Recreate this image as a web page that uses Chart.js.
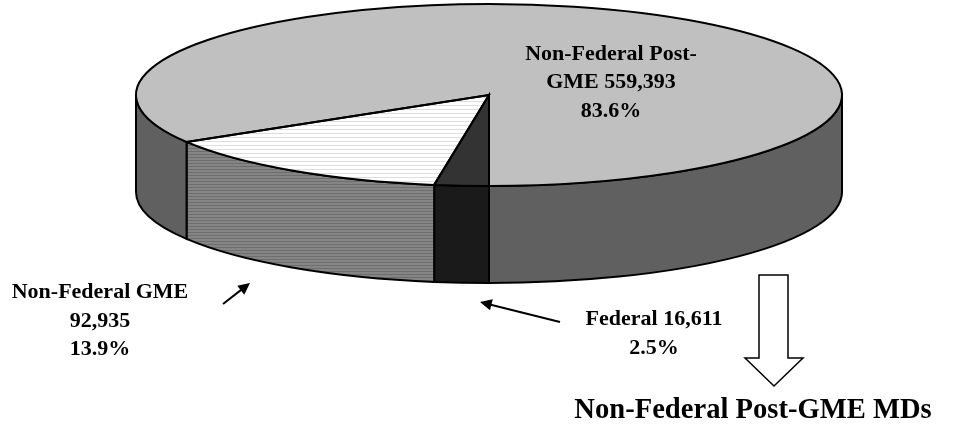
<!DOCTYPE html>
<html>
<head>
<meta charset="utf-8">
<title>Physicians by category</title>
<script src="https://cdn.jsdelivr.net/npm/chart.js@4"></script>
<style>
  html, body { margin: 0; padding: 0; background: #fff; }
  canvas { display: block; }
</style>
</head>
<body>
<canvas id="pieChart" width="972" height="427"></canvas>
<script>
// Data
const categories = ['Federal', 'Non-Federal GME', 'Non-Federal Post-GME'];
const physicians = [16611, 92935, 559393];

// Text around the pie
const labelLines = [
    ['Federal 16,611', '2.5%'],
    ['Non-Federal GME', '92,935', '13.9%'],
    ['Non-Federal Post-', 'GME 559,393', '83.6%']
];
const titleText = 'Non-Federal Post-GME MDs';

// Look of the fake 3D disc
const PIE_X = 489, PIE_Y = 95, PIE_RX = 353, PIE_RY = 91, PIE_DEPTH = 97;
const labelAnchors = [[654, 325], [100, 298], [611, 59.5]];

function stripes(colorA, colorB, period, scaleY) {
    const tile = document.createElement('canvas');
    tile.width = 1;
    tile.height = period;
    const c = tile.getContext('2d');
    c.fillStyle = colorA;
    c.fillRect(0, 0, 1, period);
    c.fillStyle = colorB;
    c.fillRect(0, 1, 1, 1);
    const pattern = c.createPattern(tile, 'repeat');
    if (scaleY) pattern.setTransform(new DOMMatrix().scale(1, scaleY));
    return pattern;
}

const topColors = ['#333333', stripes('#ffffff', '#dedede', 4, 213.5 / PIE_RY), '#c0c0c0'];
const wallColors = ['#1a1a1a', stripes('#858585', '#6e6e6e', 3), '#606060'];

function drawArrow(ctx, x0, y0, x1, y1) {
    const a = Math.atan2(y1 - y0, x1 - x0);
    ctx.beginPath();
    ctx.moveTo(x0, y0);
    ctx.lineTo(x1 - 8 * Math.cos(a), y1 - 8 * Math.sin(a));
    ctx.lineWidth = 2;
    ctx.strokeStyle = '#000';
    ctx.stroke();
    ctx.beginPath();
    ctx.moveTo(x1, y1);
    ctx.lineTo(x1 - 13 * Math.cos(a - 0.45), y1 - 13 * Math.sin(a - 0.45));
    ctx.lineTo(x1 - 13 * Math.cos(a + 0.45), y1 - 13 * Math.sin(a + 0.45));
    ctx.closePath();
    ctx.fillStyle = '#000';
    ctx.fill();
}

const disc3d = {
    id: 'disc3d',
    beforeDatasetsDraw(chart) {
        const ctx = chart.ctx;
        const arcs = chart.getDatasetMeta(0).data;

        // side walls, only the front half of the disc shows
        ctx.lineWidth = 2;
        ctx.strokeStyle = '#000';
        arcs.forEach((arc, i) => {
            [0, 2 * Math.PI].forEach(k => {
                const from = Math.max(arc.startAngle, k);
                const to = Math.min(arc.endAngle, k + Math.PI);
                if (from >= to) return;
                ctx.beginPath();
                ctx.ellipse(PIE_X, PIE_Y, PIE_RX, PIE_RY, 0, from, to);
                ctx.ellipse(PIE_X, PIE_Y + PIE_DEPTH, PIE_RX, PIE_RY, 0, to, from, true);
                ctx.closePath();
                ctx.fillStyle = wallColors[i];
                ctx.fill();
                ctx.stroke();
            });
        });

        // squash the library's round pie into the top ellipse
        const first = arcs[0];
        ctx.save();
        ctx.translate(PIE_X, PIE_Y);
        ctx.scale(PIE_RX / first.outerRadius, PIE_RY / first.outerRadius);
        ctx.translate(-first.x, -first.y);
    },
    afterDatasetsDraw(chart) {
        const ctx = chart.ctx;
        ctx.restore();

        // outlines in plain pixels so the line width stays even
        ctx.lineWidth = 2;
        ctx.strokeStyle = '#000';
        ctx.lineJoin = 'miter';
        chart.getDatasetMeta(0).data.forEach(arc => {
            ctx.beginPath();
            ctx.moveTo(PIE_X, PIE_Y);
            ctx.ellipse(PIE_X, PIE_Y, PIE_RX, PIE_RY, 0, arc.startAngle, arc.endAngle);
            ctx.closePath();
            ctx.stroke();
        });

        // labels
        ctx.fillStyle = '#000';
        ctx.textAlign = 'center';
        ctx.textBaseline = 'alphabetic';
        ctx.font = 'bold 22px "Liberation Serif"';
        labelLines.forEach((lines, i) => {
            lines.forEach((line, j) => {
                ctx.fillText(line, labelAnchors[i][0], labelAnchors[i][1] + j * 28.5);
            });
        });
        ctx.font = 'bold 28.6px "Liberation Serif"';
        ctx.fillText(titleText, 753, 418);

        // pointers
        drawArrow(ctx, 223, 304, 250, 283);
        drawArrow(ctx, 560, 322, 480, 302);

        // big hollow arrow
        ctx.beginPath();
        ctx.moveTo(759, 275);
        ctx.lineTo(788, 275);
        ctx.lineTo(788, 358);
        ctx.lineTo(803, 358);
        ctx.lineTo(774, 386);
        ctx.lineTo(745, 358);
        ctx.lineTo(759, 358);
        ctx.closePath();
        ctx.fillStyle = '#fff';
        ctx.fill();
        ctx.lineWidth = 1.5;
        ctx.stroke();
    }
};

new Chart(document.getElementById('pieChart'), {
    type: 'pie',
    data: {
        labels: categories,
        datasets: [{
            data: physicians,
            backgroundColor: topColors,
            borderWidth: 0
        }]
    },
    options: {
        responsive: false,
        animation: false,
        rotation: 180,
        layout: { padding: 0 },
        plugins: {
            legend: { display: false },
            tooltip: { enabled: false }
        }
    },
    plugins: [disc3d]
});
</script>
</body>
</html>
